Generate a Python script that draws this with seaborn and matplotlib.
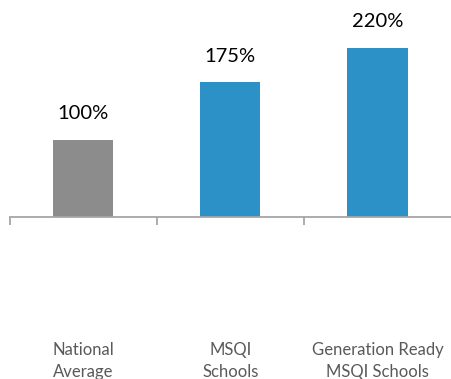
import matplotlib
matplotlib.use('Agg')
import matplotlib.pyplot as plt
import seaborn as sns
import pandas as pd
import numpy as np

categories = ['National\nAverage', 'MSQI\nSchools', 'Generation Ready\nMSQI Schools']
values = [100, 175, 220]
value_labels = ['100%', '175%', '220%']
bar_colors = ['#8C8C8C', '#2C91C6', '#2C91C6']

sns.set_style('white')
plt.rcParams['font.family'] = ['Lato', 'DejaVu Sans']

df = pd.DataFrame({'category': categories, 'value': values})

fig = plt.figure(figsize=(4.51, 3.79), dpi=100)
ax = fig.add_axes([9.5 / 451, 162 / 379, 441.5 / 451, 217 / 379])

sns.barplot(data=df, x='category', y='value', hue='category', palette=bar_colors,
            width=0.41, legend=False, ax=ax, saturation=1, linewidth=0)

for i, (v, lab) in enumerate(zip(values, value_labels)):
    ax.text(i, v + 23, lab, ha='center', va='bottom', fontsize=14.5, color='black')

ax.set_xlim(-0.5, 2.5)
ax.set_ylim(0, 282)
ax.set_xlabel('')
ax.set_ylabel('')
ax.set_yticks([])
for s in ['top', 'right', 'left']:
    ax.spines[s].set_visible(False)
ax.spines['bottom'].set_color('#A6A6A6')
ax.spines['bottom'].set_linewidth(1.3)

ax.set_xticks([0, 1, 2])
ax.set_xticklabels(categories, fontsize=12, color='#595959', linespacing=1.45)
ax.tick_params(axis='x', which='major', length=0, pad=90)
ax.set_xticks([-0.5, 0.5, 1.5], minor=True)
ax.tick_params(axis='x', which='minor', bottom=True, length=6, width=1.3,
               color='#A6A6A6', direction='out')

fig.savefig('out.png', dpi=100)
